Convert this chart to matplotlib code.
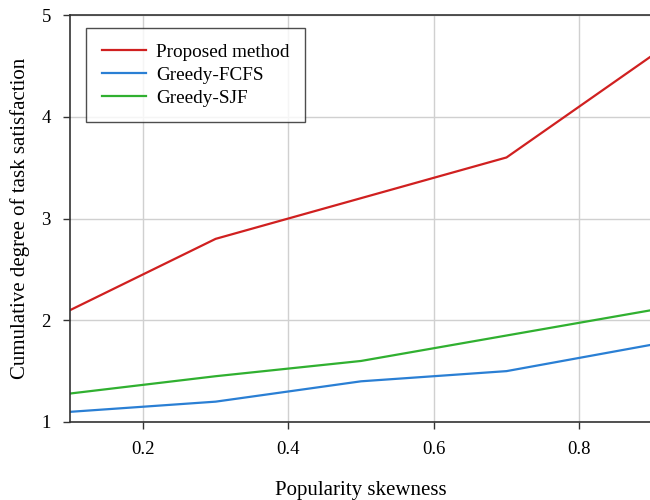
import matplotlib
matplotlib.use("Agg")
import matplotlib.pyplot as plt

x = [0.1, 0.3, 0.5, 0.7, 0.9]
proposed = [2.1, 2.8, 3.2, 3.6, 4.6]
fcfs = [1.1, 1.2, 1.4, 1.5, 1.76]
sjf = [1.28, 1.45, 1.6, 1.85, 2.1]
xticks = [0.2, 0.4, 0.6, 0.8]
yticks = [1, 2, 3, 4, 5]

plt.rcParams['font.family'] = ['Liberation Serif', 'DejaVu Serif']

fig = plt.figure(figsize=(6.5, 5), dpi=100)
ax = fig.add_axes([0.108, 0.156, 0.895, 0.814])
ax.plot(x, proposed, color='#d02020', lw=1.6, label='Proposed method')
ax.plot(x, fcfs, color='#2a7fd4', lw=1.6, label='Greedy-FCFS')
ax.plot(x, sjf, color='#30b030', lw=1.6, label='Greedy-SJF')
ax.set_xlim(0.1, 0.9)
ax.set_ylim(1, 5)
ax.set_xticks(xticks)
ax.set_xticklabels(['0.2', '0.4', '0.6', '0.8'])
ax.set_yticks(yticks)
ax.grid(True, color='#d0d0d0', lw=1)
ax.set_axisbelow(True)
for s in ['left', 'bottom', 'top']:
    ax.spines[s].set_color('#333333')
    ax.spines[s].set_linewidth(1.2)
ax.spines['right'].set_visible(False)
ax.tick_params(direction='out', length=5, width=1, labelsize=13.5, color='#333333', pad=9)
ax.set_xlabel('Popularity skewness', fontsize=15, labelpad=16)
ax.set_ylabel('Cumulative degree of task satisfaction', fontsize=15, labelpad=8)
leg = ax.legend(loc='upper left', bbox_to_anchor=(0.028, 0.968), borderaxespad=0,
                fontsize=13.8, frameon=True,
                fancybox=False, edgecolor='#222222', handlelength=2.3, borderpad=0.8,
                labelspacing=0.3, handletextpad=0.55)
leg.get_frame().set_linewidth(1.0)
fig.savefig('out.png', dpi=100)
